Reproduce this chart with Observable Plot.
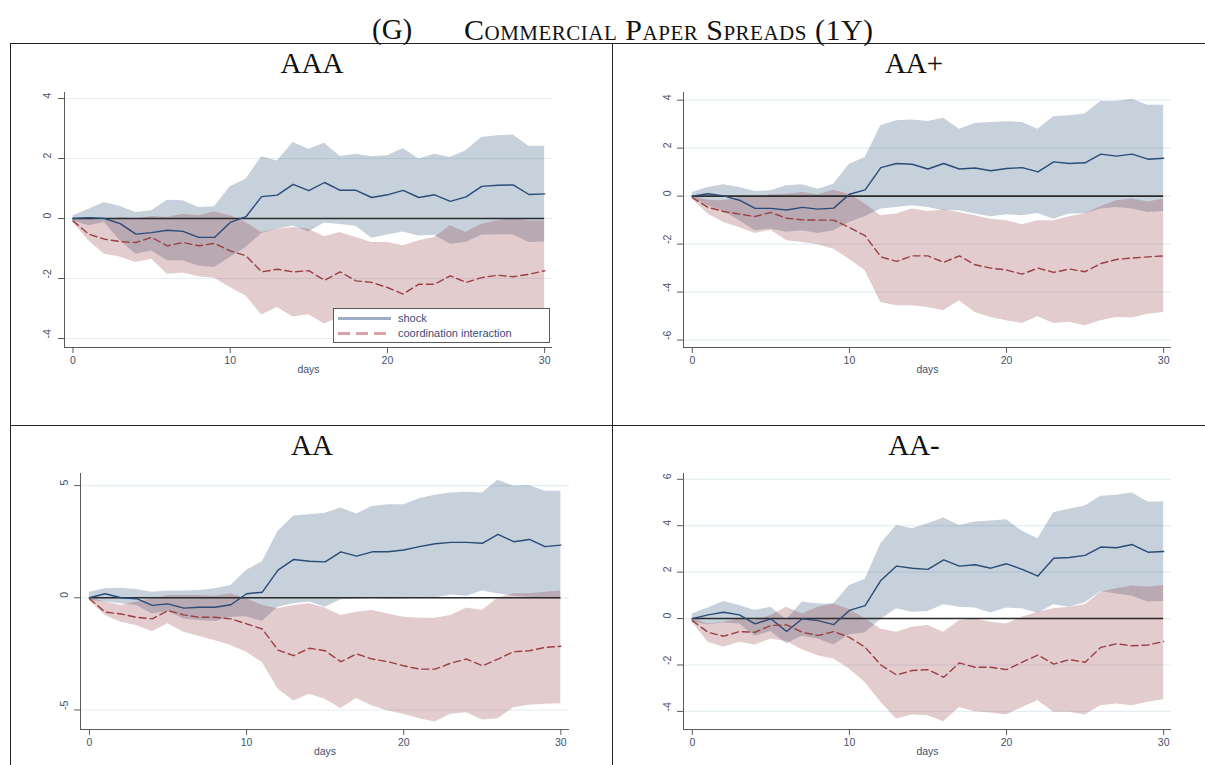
<!DOCTYPE html>
<html>
<head>
<meta charset="utf-8">
<script src="https://cdn.jsdelivr.net/npm/d3@7"></script>
<script src="https://cdn.jsdelivr.net/npm/@observablehq/plot@0.6"></script>
<style>
  html, body { margin: 0; padding: 0; background: #fff; }
  #page { position: relative; width: 1205px; height: 765px; overflow: hidden; background: #fff; }
  .serif { font-family: "Liberation Serif", "DejaVu Serif", serif; color: #111; white-space: nowrap; line-height: 1; position: absolute; }
  .maintitle { font-size: 30px; font-variant: small-caps; }
  .ptitle { font-size: 29px; transform: translateX(-50%); }
  .hl { position: absolute; height: 0; border-top: 1.6px solid #222; }
  .vl { position: absolute; width: 0; border-left: 1.6px solid #222; }
  .legend { position: absolute; background: #fff; border: 1px solid #5a5a5a; box-sizing: border-box; z-index: 5; }
  .key { position: absolute; height: 3px; }
  .ltext { position: absolute; font-family: "Liberation Sans", Arial, sans-serif; font-size: 11px; line-height: 13px; color: #3c4a78; white-space: nowrap; }
  svg.panel { position: absolute; overflow: visible; }
</style>
</head>
<body>
<div id="page"></div>
<script>
// ---------------- DATA ----------------
const days = d3.range(0, 31);
const xTicks = [0, 10, 20, 30];
const panelNames = ["AAA", "AA+", "AA", "AA-"];
const legendLabels = ["shock", "coordination interaction"];

// AAA
const aaaShock   = [0, 0.03, 0, -0.17, -0.52, -0.47, -0.39, -0.43, -0.63, -0.63, -0.13, 0.06, 0.73, 0.78, 1.14, 0.93, 1.2, 0.94, 0.94, 0.7, 0.79, 0.94, 0.7, 0.79, 0.57, 0.72, 1.07, 1.11, 1.12, 0.8, 0.82];
const aaaShockHi = [0.09, 0.31, 0.53, 0.4, 0.2, 0.26, 0.61, 0.59, 0.37, 0.39, 1.06, 1.31, 2.06, 1.92, 2.53, 2.31, 2.51, 2.07, 2.14, 2.06, 2.09, 2.33, 1.98, 2.14, 2.03, 2.26, 2.7, 2.76, 2.78, 2.41, 2.41];
const aaaShockLo = [-0.08, -0.24, -0.13, -0.74, -1.19, -1.08, -1.41, -1.41, -1.58, -1.63, -1.3, -0.97, -0.5, -0.36, -0.25, -0.45, -0.15, -0.2, -0.26, -0.66, -0.55, -0.45, -0.58, -0.56, -0.86, -0.8, -0.56, -0.54, -0.54, -0.8, -0.78];
const aaaCoord   = [-0.08, -0.52, -0.69, -0.77, -0.8, -0.63, -0.91, -0.8, -0.91, -0.83, -1.08, -1.24, -1.78, -1.69, -1.78, -1.74, -2.06, -1.78, -2.08, -2.13, -2.3, -2.52, -2.19, -2.19, -1.91, -2.13, -1.97, -1.89, -1.94, -1.86, -1.74];
const aaaCoordHi = [0, -0.02, -0.08, 0.03, -0.02, 0.07, 0.03, 0.14, 0.09, 0.22, 0.09, -0.13, -0.47, -0.36, -0.3, -0.36, -0.61, -0.47, -0.63, -0.8, -0.8, -0.91, -0.74, -0.63, -0.24, -0.47, -0.19, -0.08, 0, -0.08, -0.08];
const aaaCoordLo = [-0.13, -0.74, -1.19, -1.28, -1.47, -1.36, -1.86, -1.82, -1.94, -1.99, -2.3, -2.58, -3.22, -2.97, -3.28, -3.21, -3.52, -3.3, -3.5, -3.5, -3.75, -4.0, -3.6, -3.7, -3.55, -3.8, -3.7, -3.6, -3.85, -3.6, -3.45];
const aaaYTicks  = [-4, -2, 0, 2, 4];

// AA+
const aapShock   = [0, 0.1, 0.01, -0.17, -0.51, -0.51, -0.58, -0.47, -0.54, -0.5, 0.08, 0.26, 1.19, 1.36, 1.33, 1.13, 1.36, 1.13, 1.17, 1.06, 1.15, 1.19, 1.01, 1.43, 1.36, 1.39, 1.75, 1.67, 1.75, 1.54, 1.58];
const aapShockHi = [0.15, 0.36, 0.47, 0.36, 0.19, 0.22, 0.43, 0.47, 0.29, 0.5, 1.33, 1.61, 2.93, 3.14, 3.17, 3.11, 3.25, 2.79, 3.03, 3.07, 3.1, 3.07, 2.79, 3.31, 3.35, 3.42, 3.94, 3.94, 4.04, 3.79, 3.79];
const aapShockLo = [-0.08, -0.4, -0.64, -1.03, -1.44, -1.38, -1.51, -1.44, -1.56, -1.44, -1.1, -0.86, -0.54, -0.47, -0.4, -0.47, -0.61, -0.61, -0.75, -0.86, -0.78, -0.82, -0.72, -0.96, -0.75, -0.75, -0.54, -0.47, -0.54, -0.68, -0.64];
const aapCoord   = [-0.06, -0.47, -0.64, -0.75, -0.85, -0.68, -0.92, -0.99, -1.0, -1.0, -1.31, -1.65, -2.53, -2.72, -2.49, -2.49, -2.76, -2.49, -2.86, -3.0, -3.08, -3.25, -3.0, -3.18, -3.04, -3.15, -2.81, -2.64, -2.58, -2.53, -2.49];
const aapCoordHi = [0, -0.17, -0.19, -0.06, -0.06, 0.06, 0.08, 0.15, 0.06, 0.25, 0.08, -0.33, -0.82, -0.75, -0.54, -0.64, -0.58, -0.68, -0.82, -0.96, -1.03, -1.19, -1.03, -1.03, -0.86, -0.75, -0.44, -0.19, -0.12, -0.24, -0.12];
const aapCoordLo = [-0.12, -0.75, -1.1, -1.31, -1.56, -1.42, -1.86, -1.93, -2.03, -2.21, -2.63, -3.11, -4.43, -4.57, -4.57, -4.64, -4.78, -4.36, -4.85, -5.06, -5.19, -5.31, -5.03, -5.31, -5.26, -5.4, -5.19, -5.06, -5.08, -4.92, -4.85];
const aapYTicks  = [-6, -4, -2, 0, 2, 4];

// AA
const aaShock   = [0, 0.18, 0, -0.04, -0.34, -0.27, -0.46, -0.42, -0.42, -0.31, 0.18, 0.25, 1.23, 1.71, 1.63, 1.6, 2.05, 1.86, 2.05, 2.05, 2.13, 2.28, 2.41, 2.47, 2.47, 2.43, 2.83, 2.5, 2.6, 2.28, 2.35];
const aaShockHi = [0.25, 0.4, 0.43, 0.37, 0.25, 0.3, 0.3, 0.33, 0.4, 0.55, 1.23, 1.6, 2.95, 3.65, 3.7, 3.77, 4.0, 3.73, 4.07, 4.15, 4.15, 4.42, 4.57, 4.67, 4.7, 4.67, 5.24, 4.97, 5.0, 4.75, 4.75];
const aaShockLo = [-0.12, -0.19, -0.27, -0.34, -0.72, -0.61, -0.94, -1.01, -1.06, -0.87, -0.85, -1.05, -0.42, -0.27, -0.19, -0.42, -0.09, -0.07, -0.01, -0.07, -0.04, 0.03, -0.01, 0.13, 0.07, 0.3, 0.18, 0.07, 0.03, -0.04, -0.07];
const aaCoord   = [-0.04, -0.64, -0.72, -0.87, -0.94, -0.57, -0.76, -0.87, -0.87, -0.94, -1.16, -1.39, -2.33, -2.58, -2.25, -2.36, -2.85, -2.5, -2.73, -2.85, -3.03, -3.18, -3.18, -2.91, -2.73, -3.03, -2.73, -2.4, -2.36, -2.21, -2.16];
const aaCoordHi = [0, -0.19, -0.34, -0.19, -0.04, 0.1, 0.1, 0.1, 0.07, 0.18, -0.04, -0.34, -0.49, -0.34, -0.27, -0.46, -0.79, -0.64, -0.57, -0.72, -0.87, -0.91, -0.91, -0.79, -0.46, -0.57, -0.01, 0.18, 0.18, 0.25, 0.3];
const aaCoordLo = [-0.12, -0.79, -1.09, -1.24, -1.51, -1.16, -1.54, -1.72, -1.91, -2.13, -2.43, -2.88, -4.07, -4.6, -4.3, -4.52, -4.93, -4.49, -4.82, -5.04, -5.19, -5.39, -5.54, -5.19, -5.12, -5.45, -5.39, -4.9, -4.79, -4.75, -4.72];
const aaYTicks  = [-5, 0, 5];

// AA-
const aamShock   = [0, 0.16, 0.27, 0.16, -0.23, -0.01, -0.56, -0.01, -0.09, -0.26, 0.35, 0.56, 1.64, 2.26, 2.17, 2.12, 2.53, 2.26, 2.32, 2.17, 2.36, 2.12, 1.83, 2.6, 2.63, 2.72, 3.08, 3.05, 3.19, 2.86, 2.89];
const aamShockHi = [0.2, 0.45, 0.73, 0.56, 0.35, 0.49, -0.06, 0.71, 0.63, 0.63, 1.42, 1.68, 3.22, 4.01, 3.87, 4.09, 4.33, 4.01, 4.16, 4.2, 4.26, 3.76, 3.44, 4.56, 4.71, 4.85, 5.27, 5.31, 5.41, 5.02, 5.02];
const aamShockLo = [-0.16, -0.27, -0.19, -0.23, -0.76, -0.56, -1.09, -0.76, -0.88, -1.14, -0.7, -0.62, -0.04, 0.42, 0.27, 0.3, 0.59, 0.49, 0.45, 0.24, 0.45, 0.42, 0.23, 0.59, 0.49, 0.68, 1.17, 1.06, 0.96, 0.71, 0.73];
const aamCoord   = [-0.09, -0.59, -0.76, -0.56, -0.59, -0.3, -0.27, -0.59, -0.73, -0.56, -0.81, -1.24, -2.0, -2.43, -2.24, -2.2, -2.53, -1.91, -2.1, -2.1, -2.2, -1.88, -1.57, -1.96, -1.77, -1.88, -1.24, -1.09, -1.17, -1.14, -0.99];
const aamCoordHi = [0, -0.23, -0.16, -0.01, -0.09, 0.13, 0.49, 0.2, 0.49, 0.63, 0.39, -0.01, -0.45, -0.59, -0.37, -0.3, -0.59, -0.09, -0.01, -0.16, -0.23, 0.06, 0.27, 0.42, 0.49, 0.59, 1.14, 1.28, 1.4, 1.35, 1.42];
const aamCoordLo = [-0.16, -1.02, -1.24, -1.02, -1.14, -0.88, -0.99, -1.34, -1.6, -1.74, -2.17, -2.75, -3.61, -4.33, -4.16, -4.19, -4.45, -3.83, -4.01, -4.07, -4.16, -3.83, -3.54, -4.04, -4.04, -4.16, -3.76, -3.68, -3.76, -3.61, -3.5];
const aamYTicks  = [-4, -2, 0, 2, 4, 6];

// ---------------- STYLE / LAYOUT ----------------
const C = {
  shockFill: "#1a476f", coordFill: "#90353b",
  shockLine: "#2a4b78", coordLine: "#9b3f42",
  zero: "#2b2b2b", axis: "#5a5a5a", grid: "#e4eef2", text: "#44506e"
};

const page = document.getElementById("page");

function addDiv(cls, style, text) {
  const d = document.createElement("div");
  d.className = cls;
  Object.assign(d.style, style);
  if (text != null) d.textContent = text;
  page.appendChild(d);
  return d;
}

// frame lines of the figure table
addDiv("hl", {left: "10px", top: "43px", width: "1195px"});
addDiv("hl", {left: "10px", top: "425px", width: "1195px"});
addDiv("vl", {left: "10px", top: "43px", height: "722px"});
addDiv("vl", {left: "612px", top: "43px", height: "722px"});

// main title
addDiv("serif maintitle", {left: "372px", top: "15px", fontSize: "29px"}, "(G)");
addDiv("serif maintitle", {left: "464px", top: "15px", letterSpacing: "0.5px"}, "Commercial Paper Spreads (1Y)");

function panel(cfg) {
  const rows = days.map((d, i) => ({
    day: d, s: cfg.s[i], slo: cfg.slo[i], shi: cfg.shi[i],
    c: cfg.c[i], clo: cfg.clo[i], chi: cfg.chi[i]
  }));
  const mL = 40, mR = 10, mT = 6, mB = 40;
  const W = cfg.box.right - cfg.box.left + mL + mR;
  const H = cfg.box.bottom - cfg.box.top + mT + mB;
  const svg = Plot.plot({
    width: W, height: H,
    marginLeft: mL, marginRight: mR, marginTop: mT, marginBottom: mB,
    x: {domain: cfg.xdom, axis: null},
    y: {domain: cfg.ydom, axis: null},
    style: {fontFamily: "'Liberation Sans', Arial, sans-serif", fontSize: "10.5px", color: C.text, background: "transparent", overflow: "visible"},
    marks: [
      Plot.gridY(cfg.yticks, {stroke: C.grid, strokeOpacity: 1, strokeWidth: 1.2}),
      Plot.areaY(rows, {x: "day", y1: "slo", y2: "shi", fill: C.shockFill, fillOpacity: 0.25}),
      Plot.areaY(rows, {x: "day", y1: "clo", y2: "chi", fill: C.coordFill, fillOpacity: 0.25}),
      Plot.ruleY([0], {x1: d3.min(days), x2: d3.max(days), stroke: C.zero, strokeWidth: 1.6}),
      Plot.line(rows, {x: "day", y: "s", stroke: C.shockLine, strokeWidth: 1.4}),
      Plot.line(rows, {x: "day", y: "c", stroke: C.coordLine, strokeWidth: 1.4, strokeDasharray: "7,4"}),
      Plot.ruleX([cfg.xdom[0]], {stroke: C.axis, strokeWidth: 1}),
      Plot.ruleY([cfg.ydom[0]], {stroke: C.axis, strokeWidth: 1}),
      Plot.axisY({ticks: cfg.yticks, tickSize: 6, tickFormat: () => "", stroke: C.axis, label: null}),
      Plot.text(cfg.yticks, {y: d => d, text: d => String(d), frameAnchor: "left", dx: cfg.ydx, rotate: -90, fill: C.text, fontSize: 10.5}),
      Plot.axisX({ticks: xTicks, tickSize: 6, tickPadding: 3, stroke: C.axis, fill: C.text, label: null}),
      Plot.text(["days"], {text: d => d, frameAnchor: "bottom", dy: 25, fill: C.text, fontSize: 10.5})
    ]
  });
  svg.classList.add("panel");
  svg.style.left = (cfg.box.left - mL) + "px";
  svg.style.top = (cfg.box.top - mT) + "px";
  page.appendChild(svg);
  addDiv("serif ptitle", {left: cfg.titleX + "px", top: cfg.titleTop + "px"}, cfg.name);
}

panel({name: panelNames[0], s: aaaShock, slo: aaaShockLo, shi: aaaShockHi, c: aaaCoord, clo: aaaCoordLo, chi: aaaCoordHi,
  yticks: aaaYTicks, xdom: [-0.54, 30.5], ydom: [-4.3, 4.2], ydx: -17,
  box: {left: 64, right: 552, top: 92, bottom: 347}, titleX: 312, titleTop: 49});
panel({name: panelNames[1], s: aapShock, slo: aapShockLo, shi: aapShockHi, c: aapCoord, clo: aapCoordLo, chi: aapCoordHi,
  yticks: aapYTicks, xdom: [-0.56, 30.5], ydom: [-6.31, 4.32], ydx: -16,
  box: {left: 683, right: 1171, top: 92, bottom: 347}, titleX: 914, titleTop: 49});
panel({name: panelNames[2], s: aaShock, slo: aaShockLo, shi: aaShockHi, c: aaCoord, clo: aaCoordLo, chi: aaCoordHi,
  yticks: aaYTicks, xdom: [-0.57, 30.55], ydom: [-5.87, 5.54], ydx: -16,
  box: {left: 80, right: 569, top: 473, bottom: 729}, titleX: 312, titleTop: 431});
panel({name: panelNames[3], s: aamShock, slo: aamShockLo, shi: aamShockHi, c: aamCoord, clo: aamCoordLo, chi: aamCoordHi,
  yticks: aamYTicks, xdom: [-0.56, 30.5], ydom: [-4.78, 6.25], ydx: -16,
  box: {left: 683, right: 1171, top: 473, bottom: 729}, titleX: 914, titleTop: 431});

// legend (inside AAA panel)
const lg = addDiv("legend", {left: "333px", top: "308px", width: "217px", height: "35px"});
const k1 = document.createElement("div"); k1.className = "key";
Object.assign(k1.style, {left: "4px", top: "8px", width: "53px", background: "#9cadc5"});
const k2 = document.createElement("div"); k2.className = "key";
Object.assign(k2.style, {left: "4px", top: "23px", width: "53px", background: "repeating-linear-gradient(to right, #dba3a5 0 12px, transparent 12px 18px)"});
const t1 = document.createElement("div"); t1.className = "ltext";
Object.assign(t1.style, {left: "64px", top: "3px"}); t1.textContent = legendLabels[0];
const t2 = document.createElement("div"); t2.className = "ltext";
Object.assign(t2.style, {left: "64px", top: "18px"}); t2.textContent = legendLabels[1];
[k1, k2, t1, t2].forEach(e => lg.appendChild(e));
</script>
</body>
</html>
